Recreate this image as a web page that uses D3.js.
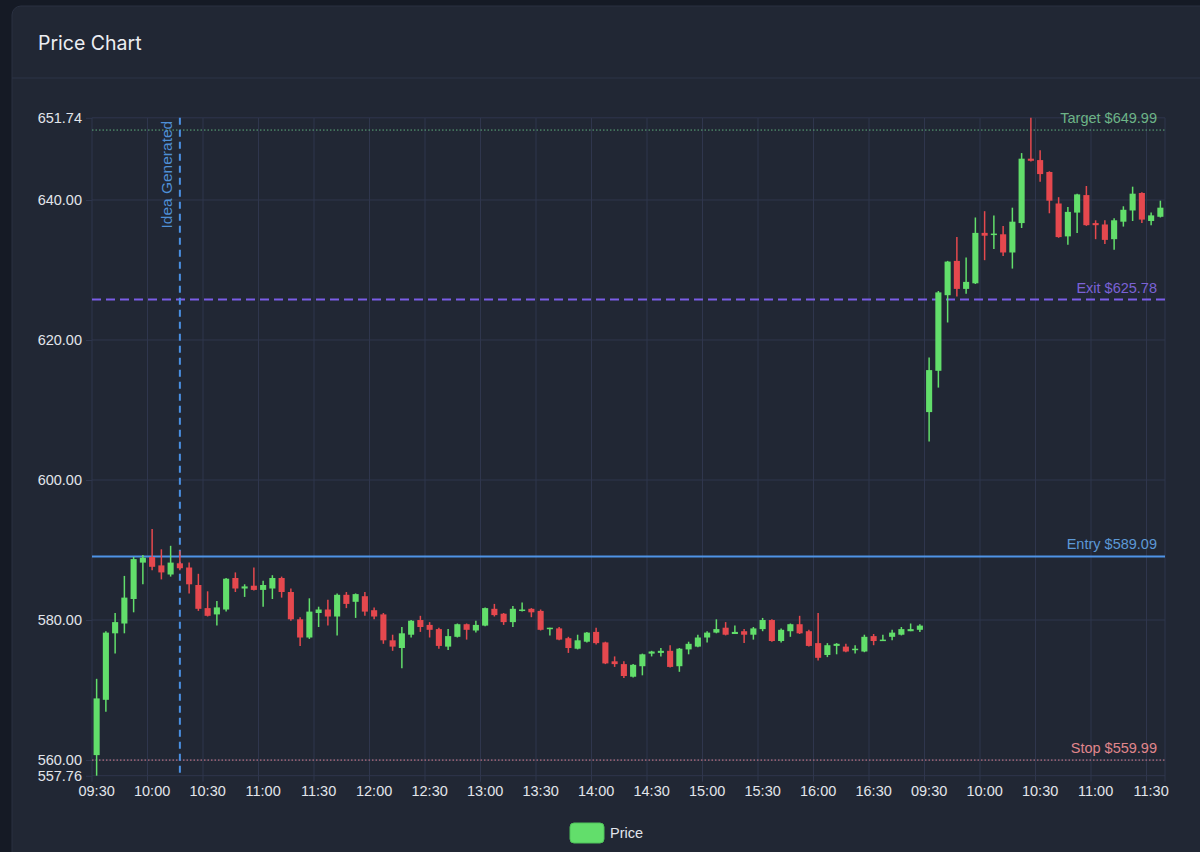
<!DOCTYPE html>
<html>
<head>
<meta charset="utf-8">
<script src="https://cdn.jsdelivr.net/npm/d3@7"></script>
<style>
  html, body { margin: 0; padding: 0; background: #151a25; }
  svg { display: block; }
</style>
</head>
<body>
<svg id="chart" width="1200" height="852"></svg>
<script>
// 5 minute bars, two sessions (day 1 09:30-16:55, day 2 09:30-11:35)
var sessionStarts = ["09:30", "09:30"];
var sessionBars = [90, 26];

var opens = [
  560.7, 568.6, 578.1, 579.5, 583.0, 588.2, 589.0, 587.8, 586.5, 588.1,
  587.5, 585.0, 581.7, 580.8, 581.5, 586.0, 584.5, 584.9, 584.3, 584.5,
  586.0, 584.0, 580.1, 577.5, 581.0, 581.5, 580.5, 583.6, 582.6, 583.4,
  581.4, 580.8, 577.1, 576.0, 577.9, 580.0, 579.3, 578.7, 576.2, 577.6,
  579.4, 578.5, 579.2, 581.6, 580.9, 579.7, 581.3, 581.6, 581.3, 578.7,
  578.8, 577.4, 575.9, 576.9, 578.3, 576.8, 574.1, 573.7, 571.9, 573.4,
  575.2, 575.3, 575.6, 573.4, 575.8, 576.2, 577.5, 578.2, 578.9, 578.0,
  578.4, 577.9, 578.7, 580.0, 577.0, 578.4, 579.4, 578.4, 576.7, 575.0,
  576.3, 576.2, 575.7, 575.5, 577.7, 577.0, 577.6, 577.9, 578.4, 578.6,
  609.7, 615.6, 626.4, 631.3, 627.3, 628.1, 635.3, 635.0, 635.1, 632.5,
  636.7, 645.9, 645.7, 644.0, 639.5, 634.8, 638.2, 640.7, 636.7, 636.5,
  634.4, 636.9, 638.5, 641.0, 637.0, 637.6
];
var highs = [
  571.6, 578.4, 581.0, 586.3, 589.0, 589.3, 593.0, 590.1, 590.6, 589.9,
  588.2, 586.6, 584.1, 582.7, 586.0, 586.8, 585.1, 587.5, 585.6, 586.4,
  586.2, 584.5, 580.4, 583.1, 581.9, 582.9, 583.8, 584.0, 583.8, 584.0,
  581.8, 581.0, 577.9, 579.0, 580.0, 580.6, 579.7, 578.9, 578.7, 579.5,
  579.5, 579.9, 581.8, 582.3, 581.0, 582.0, 582.5, 581.7, 581.5, 578.9,
  579.0, 577.6, 577.9, 578.3, 578.9, 576.9, 574.8, 574.1, 573.7, 575.2,
  575.6, 576.0, 576.4, 576.0, 576.9, 577.9, 578.4, 580.1, 579.7, 579.2,
  578.7, 579.0, 580.3, 580.1, 578.8, 579.5, 580.6, 578.6, 581.0, 576.7,
  576.7, 576.6, 576.4, 577.9, 578.0, 577.9, 578.6, 579.0, 579.5, 579.4,
  617.5, 627.0, 631.3, 634.7, 631.8, 637.5, 638.4, 637.8, 636.3, 638.9,
  646.7, 651.74, 647.1, 644.1, 640.4, 639.0, 640.9, 642.0, 637.1, 637.1,
  637.4, 639.1, 641.9, 641.1, 638.2, 639.9
];
var lows = [
  557.76, 566.9, 575.2, 578.1, 581.1, 585.1, 587.1, 585.8, 586.2, 587.1,
  583.8, 581.3, 580.5, 579.2, 581.2, 584.0, 583.3, 584.2, 581.9, 583.0,
  583.2, 579.9, 576.3, 577.3, 579.0, 579.2, 577.8, 581.7, 580.3, 580.6,
  580.1, 576.6, 575.6, 573.1, 577.5, 578.3, 577.5, 575.9, 575.7, 577.5,
  577.2, 578.2, 579.1, 580.5, 579.3, 579.0, 581.2, 580.4, 578.5, 577.8,
  577.1, 575.3, 575.8, 576.8, 576.5, 573.7, 573.3, 571.7, 571.8, 572.1,
  574.8, 574.8, 573.2, 572.6, 575.1, 576.1, 576.8, 578.1, 577.8, 578.0,
  576.7, 577.2, 578.4, 576.9, 576.8, 577.6, 578.0, 576.2, 574.2, 574.7,
  575.1, 575.4, 575.2, 575.4, 576.4, 577.0, 577.1, 577.8, 578.4, 578.3,
  605.5, 613.2, 622.5, 626.2, 626.6, 628.0, 631.4, 633.0, 632.0, 630.2,
  636.0, 645.5, 642.6, 638.1, 634.6, 633.6, 635.3, 636.3, 634.4, 633.7,
  632.9, 636.2, 637.0, 636.7, 636.4, 637.5
];
var closes = [
  568.8, 578.2, 579.7, 583.2, 588.7, 588.9, 587.6, 586.8, 588.2, 587.4,
  585.1, 581.6, 580.6, 581.8, 585.9, 584.5, 584.8, 584.3, 585.0, 586.0,
  584.0, 580.1, 577.5, 581.2, 581.5, 580.5, 583.6, 582.3, 583.7, 581.2,
  580.5, 577.1, 576.2, 578.1, 579.9, 579.0, 578.6, 576.3, 577.7, 579.4,
  578.6, 579.3, 581.7, 580.7, 579.7, 581.6, 581.5, 581.1, 578.6, 578.9,
  577.2, 576.0, 577.1, 578.2, 576.7, 573.8, 573.7, 572.0, 573.6, 575.1,
  575.5, 575.6, 573.3, 575.9, 576.6, 577.5, 578.2, 578.7, 577.9, 578.3,
  577.9, 578.8, 580.0, 577.0, 578.6, 579.4, 578.1, 576.3, 574.6, 576.4,
  576.6, 575.5, 575.9, 577.6, 577.0, 577.2, 578.2, 578.7, 578.7, 579.2,
  615.7, 626.8, 631.2, 627.3, 628.3, 635.3, 634.9, 635.2, 632.5, 636.9,
  645.9, 645.6, 643.7, 639.9, 634.7, 638.3, 640.8, 636.4, 636.4, 634.3,
  637.1, 638.6, 640.9, 637.2, 637.8, 638.9
];

var yTicks = [557.76, 560, 580, 600, 620, 640, 651.74];

var levelNames = ["Target", "Exit", "Entry", "Stop"];
var levelValues = [649.99, 625.78, 589.09, 559.99];

var ideaTime = "10:15";
var ideaLabel = "Idea Generated";

// styles
var GREEN = "#62de6b", RED = "#e5484e";
var GRID = "#2f364d";
var TEXT = "#e2e5eb";
var levelStyle = {
  Target: { stroke: "#5fae7c", text: "#6db487", width: 1, dash: "1.5,2" },
  Exit:   { stroke: "#7a5de6", text: "#7b62d6", width: 2, dash: "9,5" },
  Entry:  { stroke: "#4f93e6", text: "#5c98d6", width: 2, dash: null },
  Stop:   { stroke: "#d9808c", text: "#e0868c", width: 1, dash: "1.5,2" }
};
var FONT = "'Helvetica Neue', Helvetica, Arial, 'Liberation Sans', sans-serif";

// build time labels for each bar
var times = [];
sessionStarts.forEach(function (s, k) {
  var hm = s.split(":");
  var t0 = +hm[0] * 60 + +hm[1];
  for (var j = 0; j < sessionBars[k]; j++) {
    var m = t0 + j * 5;
    times.push(d3.format("02d")(Math.floor(m / 60)) + ":" + d3.format("02d")(m % 60));
  }
});

var bars = times.map(function (t, i) {
  return { i: i, t: t, o: opens[i], h: highs[i], l: lows[i], c: closes[i] };
});

var svg = d3.select("#chart");

// card
svg.append("rect").attr("x", 0).attr("y", 0).attr("width", 1200).attr("height", 852).attr("fill", "#151a25");
svg.append("rect")
  .attr("x", 12).attr("y", 6).attr("width", 1210).attr("height", 870).attr("rx", 9)
  .attr("fill", "#212734").attr("stroke", "#2a3141");
svg.append("line").attr("x1", 12).attr("x2", 1200).attr("y1", 78).attr("y2", 78)
  .attr("stroke", "#2d3446");
svg.append("text").attr("x", 38).attr("y", 50).text("Price Chart")
  .attr("font-family", "Inter, 'Helvetica Neue', Arial, sans-serif").attr("font-size", "19.5px")
  .attr("fill", "#eceef2");

var plotLeft = 92, plotRight = 1165, plotTop = 117.8, plotBottom = 775.7;

var x = d3.scaleBand().domain(d3.range(bars.length)).range([plotLeft, plotRight]).padding(0);
var y = d3.scaleLinear().domain([557.76, 651.74]).range([plotBottom, plotTop]);
var bw = x.bandwidth();

var plot = svg.append("g");

// horizontal grid
plot.selectAll(".hgrid").data(yTicks).enter().append("line")
  .attr("x1", plotLeft).attr("x2", plotRight)
  .attr("y1", function (d) { return y(d); }).attr("y2", function (d) { return y(d); })
  .attr("stroke", GRID).attr("stroke-width", 1);

// vertical grid at each half hour
var xTickIdx = bars.filter(function (b) { return +b.t.slice(3) % 30 === 0; }).map(function (b) { return b.i; });
plot.selectAll(".vgrid").data(xTickIdx).enter().append("line")
  .attr("x1", function (d) { return x(d); }).attr("x2", function (d) { return x(d); })
  .attr("y1", plotTop).attr("y2", plotBottom + 6)
  .attr("stroke", GRID).attr("stroke-width", 1);
plot.append("line").attr("x1", plotRight).attr("x2", plotRight).attr("y1", plotTop).attr("y2", plotBottom + 6)
  .attr("stroke", GRID);

// y axis
var yAxis = svg.append("g").attr("transform", "translate(" + plotLeft + ",0)")
  .call(d3.axisLeft(y).tickValues(yTicks).tickFormat(d3.format(".2f")).tickSize(6).tickPadding(4));
yAxis.select(".domain").remove();
yAxis.selectAll("line").attr("stroke", GRID);
yAxis.selectAll("text").attr("fill", TEXT).attr("font-size", "14.5px").attr("font-family", FONT);

// x axis labels in band centre
var xAxis = svg.append("g").attr("transform", "translate(0," + plotBottom + ")")
  .call(d3.axisBottom(x).tickValues(xTickIdx).tickFormat(function (i) { return times[i]; }).tickSize(0).tickPadding(10));
xAxis.select(".domain").remove();
xAxis.selectAll("text").attr("fill", TEXT).attr("font-size", "14.5px").attr("font-family", FONT);

// level lines
levelNames.forEach(function (name, k) {
  var st = levelStyle[name];
  var yy = y(levelValues[k]);
  plot.append("line")
    .attr("x1", plotLeft).attr("x2", plotRight).attr("y1", yy).attr("y2", yy)
    .attr("stroke", st.stroke).attr("stroke-width", st.width)
    .attr("stroke-dasharray", st.dash);
  plot.append("text")
    .attr("x", plotRight - 8).attr("y", yy - 7)
    .attr("text-anchor", "end")
    .attr("font-family", FONT).attr("font-size", "14.5px")
    .attr("fill", st.text)
    .text(name + " $" + d3.format(".2f")(levelValues[k]));
});

// idea generated vertical marker
var ideaX = x(times.indexOf(ideaTime)) + bw / 2;
plot.append("line")
  .attr("x1", ideaX).attr("x2", ideaX).attr("y1", plotTop).attr("y2", plotBottom)
  .attr("stroke", "#4a90e2").attr("stroke-width", 2).attr("stroke-dasharray", "7,5");
plot.append("text")
  .attr("transform", "translate(" + (ideaX - 8) + "," + (plotTop + 3) + ") rotate(-90)")
  .attr("text-anchor", "end")
  .attr("font-family", FONT).attr("font-size", "15.5px")
  .attr("fill", "#4f8fd6")
  .text(ideaLabel);

// candles
var candle = plot.selectAll(".candle").data(bars).enter().append("g").attr("class", "candle");
candle.append("line")
  .attr("x1", function (d) { return x(d.i) + bw / 2; })
  .attr("x2", function (d) { return x(d.i) + bw / 2; })
  .attr("y1", function (d) { return y(d.h); })
  .attr("y2", function (d) { return y(d.l); })
  .attr("stroke", function (d) { return d.c >= d.o ? GREEN : RED; })
  .attr("stroke-width", 1.5);
candle.append("rect")
  .attr("x", function (d) { return x(d.i) + bw / 2 - bw * 0.33; })
  .attr("width", bw * 0.66)
  .attr("y", function (d) { return y(Math.max(d.o, d.c)); })
  .attr("height", function (d) { return Math.max(1.5, Math.abs(y(d.o) - y(d.c))); })
  .attr("fill", function (d) { return d.c >= d.o ? GREEN : RED; });

// legend
svg.append("rect").attr("x", 570).attr("y", 823).attr("width", 34).attr("height", 20).attr("rx", 4)
  .attr("fill", GREEN).attr("stroke", "#4fc25a");
svg.append("text").attr("x", 610).attr("y", 838).text("Price")
  .attr("font-family", FONT).attr("font-size", "14.5px").attr("fill", TEXT);
</script>
</body>
</html>
